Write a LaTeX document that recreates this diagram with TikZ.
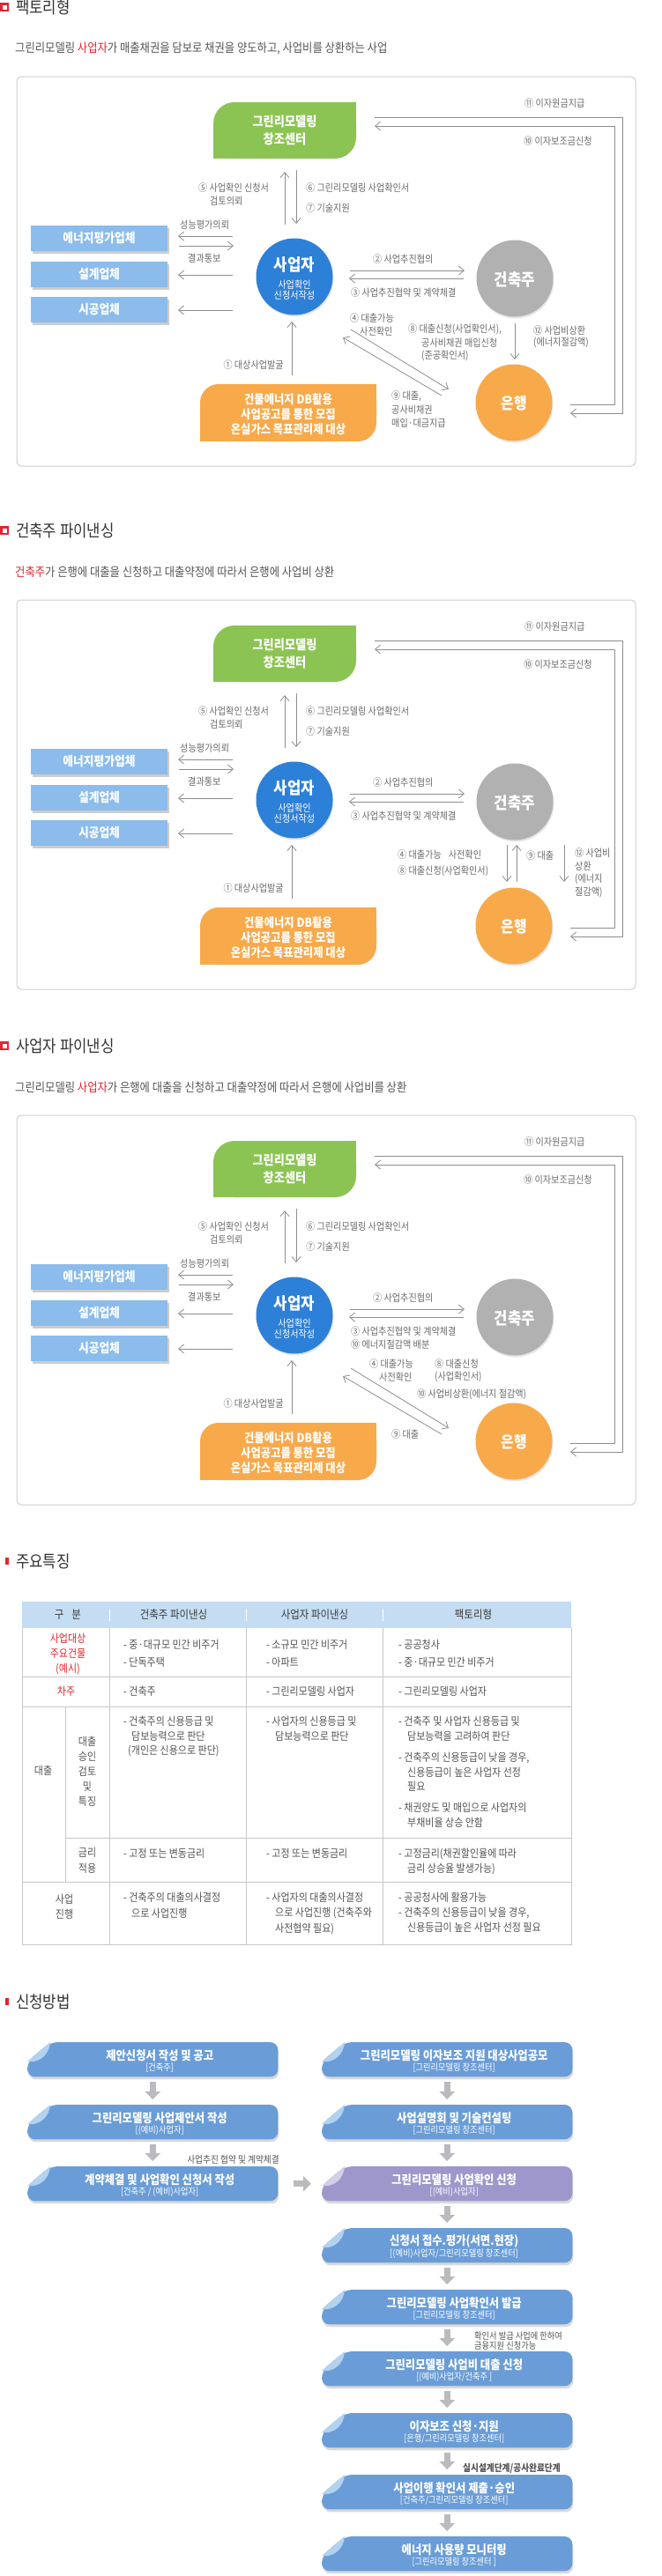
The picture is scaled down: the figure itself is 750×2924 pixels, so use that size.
\documentclass[tikz,border=0pt]{standalone}
\usepackage{fontspec}
\setmainfont{Noto Sans CJK KR}[FakeStretch=0.88]
\usetikzlibrary{arrows.meta,calc,shadows}
\definecolor{lbl}{HTML}{6B6B6B}
\definecolor{ln}{HTML}{8E8E8E}
\definecolor{frm}{HTML}{CFCFCF}
\definecolor{grn}{HTML}{8CC453}
\definecolor{org}{HTML}{F8A94A}
\definecolor{bizc}{HTML}{2D80D7}
\definecolor{gry}{HTML}{B1B1B1}
\definecolor{lbox}{HTML}{8BBCEB}
\definecolor{titc}{HTML}{333333}
\definecolor{redc}{HTML}{E1262D}
\definecolor{tbl}{HTML}{C8C8C8}
\definecolor{thead}{HTML}{C4DDF2}
\definecolor{thc}{HTML}{3C3C3C}
\definecolor{ttx}{HTML}{555555}
\definecolor{fboxc}{HTML}{6A9DD7}
\definecolor{ffold}{HTML}{B3D2EF}
\definecolor{pboxc}{HTML}{9E97CB}
\definecolor{pfold}{HTML}{D3CFEA}
\definecolor{barr}{HTML}{BABABF}
\newcommand\fsz[1]{\fontsize{#1}{#1}\selectfont}
\newcommand\fszl[2]{\fontsize{#1}{#2}\selectfont}
\tikzset{
 lab/.style={font=\fsz{11.5}, text=lbl, anchor=west, inner sep=0pt},
 arr/.style={draw=ln, line width=0.8pt, -{Straight Barb[length=6pt,width=10pt]}},
 wtxt/.style={text=white, inner sep=0pt},
 lbx/.style={fill=lbox, minimum width=155pt, minimum height=29pt, inner sep=0pt, text=white, font=\bfseries\fsz{14.5}, drop shadow={shadow xshift=1.5pt, shadow yshift=-2.5pt, opacity=0.4}},
 circ/.style={circle, minimum size=87pt, inner sep=0pt, drop shadow={shadow xshift=1pt, shadow yshift=-2pt, opacity=0.2}},
 sectitle/.style={font=\fsz{19}, text=titc, anchor=west, inner sep=0pt},
 subt/.style={font=\fsz{14}, text=ttx, anchor=west, inner sep=0pt},
 tt/.style={font=\fsz{12.5}, text=ttx, anchor=west, inner sep=0pt},
 tc/.style={font=\fsz{12.5}, text=ttx, inner sep=0pt},
 tr/.style={font=\fsz{12.5}, text=redc, inner sep=0pt},
 th/.style={font=\fsz{13}, text=thc, inner sep=0pt},
 tline/.style={draw=tbl, line width=1pt},
 barrow/.style={draw=barr, line width=7pt, -{Triangle[length=9pt,width=17pt]}, shorten <=6pt, shorten >=6pt},
 fl/.style={font=\fsz{10.5}, text=ttx, inner sep=0pt},
}
\newcommand\diagbase[2]{%
 \fill[redc] (0,3) rectangle (10,13);
 \fill[white] (2.5,5.5) rectangle (7.5,10.5);
 \node[sectitle] (title) at (18,8) {#1};
 \node[subt] (sub) at (17,55) {#2};
 \draw[frm, line width=1pt, rounded corners=5pt] (19,87) rectangle (721,529);
 \fill[grn, rounded corners=24pt] (242,116) rectangle (404,180);
 \fill[grn] (380,116) rectangle (404,140);
 \fill[grn] (242,156) rectangle (266,180);
 \node[wtxt, font=\bfseries\fszl{15}{20}, align=center] (green) at (323,148) {그린리모델링\\창조센터};
 \fill[org, rounded corners=21pt] (227,436) rectangle (427,501);
 \fill[org] (403,436) rectangle (427,460);
 \fill[org] (227,477) rectangle (251,501);
 \node[wtxt, font=\bfseries\fszl{14}{17}, align=center] (orange) at (327,470) {건물에너지 DB활용\\사업공고를 통한 모집\\온실가스 목표관리제 대상};
 \node[lbx] (eval) at (112.5,270.5) {에너지평가업체};
 \node[lbx] (design) at (112.5,311.5) {설계업체};
 \node[lbx] (build) at (112.5,351.5) {시공업체};
 \node[circ, fill=bizc] (biz) at (334,314) {};
 \node[wtxt, font=\bfseries\fsz{19}] (bizt) at (334,300) {사업자};
 \node[wtxt, font=\fsz{11.5}] (bizs1) at (334,323) {사업확인};
 \node[wtxt, font=\fsz{11.5}] (bizs2) at (334,335) {신청서작성};
 \node[circ, fill=gry] (owner) at (584,316) {};
 \node[wtxt, font=\bfseries\fsz{19}] (ownert) at (584,317) {건축주};
 \node[circ, fill=org] (bank) at (583,457) {};
 \node[wtxt, font=\bfseries\fsz{18}] (bankt) at (583,458) {은행};
 \draw[arr] (425,133) -- (706,133) -- (706,469) -- (647,469);
 \draw[arr] (647,459) -- (697,459) -- (697,143) -- (425,143);
 \node[lab] (l11) at (595,117) {⑪ 이자원금지급};
 \node[lab] (l10) at (594,160) {⑩ 이자보조금신청};
 \draw[arr] (323,255) -- (323,195);
 \draw[arr] (336,193) -- (336,254);
 \node[lab] (l5) at (225,213) {⑤ 사업확인 신청서};
 \node[lab] (l5b) at (238,228) {검토의뢰};
 \node[lab] (l6) at (347,213) {⑥ 그린리모델링 사업확인서};
 \node[lab] (l7) at (347,236) {⑦ 기술지원};
 \node[lab] (lp) at (204,255) {성능평가의뢰};
 \draw[arr] (264,268) -- (202,268);
 \draw[arr] (203,279) -- (265,279);
 \node[lab] (lr) at (213,293) {결과통보};
 \draw[arr] (264,312) -- (202,312);
 \draw[arr] (264,352) -- (202,352);
 \node[lab] (l2) at (423,294) {② 사업추진협의};
 \draw[arr] (397,307) -- (527,307);
 \draw[arr] (526,316) -- (396,316);
 \node[lab] (l3) at (398,332) {③ 사업추진협약 및 계약체결};
 \node[lab, anchor=east] (l1) at (322,414) {① 대상사업발굴};
 \draw[arr] (331,426) -- (331,365);
}
\newcommand\diagX{%
 \draw[arr] (398,374) -- (509,442);
 \draw[arr] (501,449) -- (389,383);
}
\newcommand\flowbox[7]{%
 \node[minimum width=284pt, minimum height=39pt, inner sep=0pt, anchor=north west] (#1) at (#2,#3) {};
 \fill[black, opacity=0.15, rounded corners=9pt] ($(#1.north west)+(27,3)$) -- ($(#1.north east)+(1,3)$) -- ($(#1.south east)+(1,3)$) -- ($(#1.south west)+(1,3)$) -- ($(#1.north west)+(1,25)$) -- cycle;
 \fill[#4, rounded corners=9pt] ($(#1.north west)+(26,0)$) -- (#1.north east) -- (#1.south east) -- (#1.south west) -- ($(#1.north west)+(0,22)$) -- cycle;
 \fill[#5] ($(#1.north west)+(26,0)$) -- ($(#1.north west)+(0,22)$) .. controls ($(#1.north west)+(14,24)$) and ($(#1.north west)+(25,14)$) .. ($(#1.north west)+(26,0)$);
 \node[wtxt, font=\bfseries\fsz{14}] (#1a) at ($(#1.north)+(8,15)$) {#6};
 \node[wtxt, font=\fsz{10.5}] (#1b) at ($(#1.north)+(8,29)$) {#7};
}
\begin{document}
\begin{tikzpicture}[x=1pt, y=-1pt]
\useasboundingbox (0,0) rectangle (750,2924);
\fill[white] (0,0) rectangle (750,2924);
% ---------- section 1
\begin{scope}[name prefix=a-]
 \diagbase{팩토리형}{그린리모델링 \textcolor{redc}{사업자}가 매출채권을 담보로 채권을 양도하고, 사업비를 상환하는 사업}
 \diagX
 \node[lab] (s4) at (397,361) {④ 대출가능};
 \node[lab] (s4b) at (408,376) {사전확인};
 \node[lab] (s8) at (463,374) {⑧ 대출신청(사업확인서),};
 \node[lab] (s8b) at (478,389) {공사비채권 매입신청};
 \node[lab] (s8c) at (478,404) {(준공확인서)};
 \draw[arr] (584,367) -- (584,408);
 \node[lab] (s12) at (605,375) {⑫ 사업비상환};
 \node[lab] (s12b) at (605,389) {(에너지절감액)};
 \node[lab] (s9) at (444,450) {⑨ 대출,};
 \node[lab] (s9b) at (444,465) {공사비채권};
 \node[lab] (s9c) at (444,480) {매입·대금지급};
\end{scope}
% ---------- section 2
\begin{scope}[shift={(0,594)}, name prefix=b-]
 \diagbase{건축주 파이낸싱}{\textcolor{redc}{건축주}가 은행에 대출을 신청하고 대출약정에 따라서 은행에 사업비 상환}
 \node[lab] (s4) at (451,376) {④ 대출가능\hspace{8pt}사전확인};
 \node[lab] (s8) at (451,395) {⑧ 대출신청(사업확인서)};
 \draw[arr] (575,365) -- (575,407);
 \draw[arr] (586,407) -- (586,365);
 \node[lab] (s9) at (597,377) {⑨ 대출};
 \draw[arr] (640,365) -- (640,407);
 \node[lab] (s12) at (652,374) {⑫ 사업비};
 \node[lab] (s12b) at (652,389) {상환};
 \node[lab] (s12c) at (652,404) {(에너지};
 \node[lab] (s12d) at (652,419) {절감액)};
\end{scope}
% ---------- section 3
\begin{scope}[shift={(0,1179)}, name prefix=c-]
 \diagbase{사업자 파이낸싱}{그린리모델링 \textcolor{redc}{사업자}가 은행에 대출을 신청하고 대출약정에 따라서 은행에 사업비를 상환}
 \diagX
 \node[lab] (s10) at (398,347) {⑩ 에너지절감액 배분};
 \node[lab] (s4) at (419,369) {④ 대출가능};
 \node[lab] (s4b) at (430,384) {사전확인};
 \node[lab] (s8) at (493,369) {⑧ 대출신청};
 \node[lab] (s8b) at (493,384) {(사업확인서)};
 \node[lab] (s10b) at (473,404) {⑩ 사업비상환(에너지 절감액)};
 \node[lab] (s9) at (444,449) {⑨ 대출};
\end{scope}
% ---------- section 4 table
\fill[redc] (6,1768) rectangle (10,1776);
\node[sectitle] (tt4) at (18,1772) {주요특징};
\fill[thead] (25,1818) rectangle (648,1848);
\foreach \xx in {124,279,434} \draw[white, line width=1pt] (\xx,1826) -- (\xx,1840);
\node[th] (h1) at (77,1833) {구\hspace{9pt}분};
\node[th] (h2) at (197,1833) {건축주 파이낸싱};
\node[th] (h3) at (357,1833) {사업자 파이낸싱};
\node[th] (h4) at (537,1833) {팩토리형};
\draw[tline] (25,1848) -- (25,2207) -- (648,2207) -- (648,1848);
\draw[tline] (25,1903) -- (648,1903);
\draw[tline] (25,1937) -- (648,1937);
\draw[tline] (74,2086) -- (648,2086);
\draw[tline] (25,2136) -- (648,2136);
\draw[tline] (124,1848) -- (124,2207);
\draw[tline] (279,1848) -- (279,2207);
\draw[tline] (434,1848) -- (434,2207);
\draw[tline] (74,1937) -- (74,2136);
\node[tr] (r1a) at (77,1860) {사업대상};
\node[tr] (r1b) at (77,1877) {주요건물};
\node[tr] (r1c) at (77,1895) {(예시)};
\node[tt] (r1d) at (140,1867) {- 중·대규모 민간 비주거};
\node[tt] (r1e) at (140,1887) {- 단독주택};
\node[tt] (r1f) at (302,1867) {- 소규모 민간 비주거};
\node[tt] (r1g) at (302,1887) {- 아파트};
\node[tt] (r1h) at (452,1867) {- 공공청사};
\node[tt] (r1i) at (452,1887) {- 중·대규모 민간 비주거};
\node[tr] (r2a) at (75,1920) {차주};
\node[tt] (r2b) at (140,1920) {- 건축주};
\node[tt] (r2c) at (302,1920) {- 그린리모델링 사업자};
\node[tt] (r2d) at (452,1920) {- 그린리모델링 사업자};
\node[tc] (r3a) at (49,2010) {대출};
\node[tc] (r3b1) at (99,1977) {대출};
\node[tc] (r3b2) at (99,1994) {승인};
\node[tc] (r3b3) at (99,2011) {검토};
\node[tc] (r3b4) at (99,2028) {및};
\node[tc] (r3b5) at (99,2045) {특징};
\node[tt] (r3c1) at (140,1954) {- 건축주의 신용등급 및};
\node[tt] (r3c2) at (149,1971) {담보능력으로 판단};
\node[tt] (r3c3) at (145,1988) {(개인은 신용으로 판단)};
\node[tt] (r3d1) at (302,1954) {- 사업자의 신용등급 및};
\node[tt] (r3d2) at (312,1971) {담보능력으로 판단};
\node[tt] (r3e1) at (452,1954) {- 건축주 및 사업자 신용등급 및};
\node[tt] (r3e2) at (462,1971) {담보능력을 고려하여 판단};
\node[tt] (r3e3) at (452,1995) {- 건축주의 신용등급이 낮을 경우,};
\node[tt] (r3e4) at (462,2012) {신용등급이 높은 사업자 선정};
\node[tt] (r3e5) at (462,2028) {필요};
\node[tt] (r3e6) at (452,2052) {- 채권양도 및 매입으로 사업자의};
\node[tt] (r3e7) at (462,2069) {부채비율 상승 안함};
\node[tc] (r4a) at (99,2103) {금리};
\node[tc] (r4b) at (99,2121) {적용};
\node[tt] (r4c) at (140,2104) {- 고정 또는 변동금리};
\node[tt] (r4d) at (302,2104) {- 고정 또는 변동금리};
\node[tt] (r4e1) at (452,2104) {- 고정금리(채권할인율에 따라};
\node[tt] (r4e2) at (462,2122) {금리 상승율 발생가능)};
\node[tc] (r5a) at (73,2156) {사업};
\node[tc] (r5b) at (73,2173) {진행};
\node[tt] (r5c1) at (140,2154) {- 건축주의 대출의사결정};
\node[tt] (r5c2) at (149,2172) {으로 사업진행};
\node[tt] (r5d1) at (302,2154) {- 사업자의 대출의사결정};
\node[tt] (r5d2) at (312,2172) {으로 사업진행 (건축주와};
\node[tt] (r5d3) at (312,2189) {사전협약 필요)};
\node[tt] (r5e1) at (452,2154) {- 공공청사에 활용가능};
\node[tt] (r5e2) at (452,2171) {- 건축주의 신용등급이 낮을 경우,};
\node[tt] (r5e3) at (462,2188) {신용등급이 높은 사업자 선정 필요};
% ---------- section 5 flow
\fill[redc] (6,2268) rectangle (10,2276);
\node[sectitle] (tt5) at (18,2272) {신청방법};
\flowbox{L1}{31}{2318}{fboxc}{ffold}{제안신청서 작성 및 공고}{[건축주]}
\flowbox{L2}{31}{2389}{fboxc}{ffold}{그린리모델링 사업제안서 작성}{[(예비)사업자]}
\flowbox{L3}{31}{2459}{fboxc}{ffold}{계약체결 및 사업확인 신청서 작성}{[건축주 / (예비)사업자]}
\flowbox{R1}{365}{2318}{fboxc}{ffold}{그린리모델링 이자보조 지원 대상사업공모}{[그린리모델링 창조센터]}
\flowbox{R2}{365}{2389}{fboxc}{ffold}{사업설명회 및 기술컨설팅}{[그린리모델링 창조센터]}
\flowbox{R3}{365}{2459}{pboxc}{pfold}{그린리모델링 사업확인 신청}{[(예비)사업자]}
\flowbox{R4}{365}{2529}{fboxc}{ffold}{신청서 접수.평가(서면.현장)}{[(예비)사업자/그린리모델링 창조센터]}
\flowbox{R5}{365}{2599}{fboxc}{ffold}{그린리모델링 사업확인서 발급}{[그린리모델링 창조센터]}
\flowbox{R6}{365}{2669}{fboxc}{ffold}{그린리모델링 사업비 대출 신청}{[(예비)사업자/건축주 ]}
\flowbox{R7}{365}{2739}{fboxc}{ffold}{이자보조 신청·지원}{[은행/그린리모델링 창조센터]}
\flowbox{R8}{365}{2809}{fboxc}{ffold}{사업이행 확인서 제출·승인}{[건축주/그린리모델링 창조센터]}
\flowbox{R9}{365}{2879}{fboxc}{ffold}{에너지 사용량 모니터링}{[그린리모델링 창조센터 ]}
\draw[barrow] (L1) -- (L2);
\draw[barrow] (L2) -- (L3);
\draw[barrow] (R1) -- (R2);
\draw[barrow] (R2) -- (R3);
\draw[barrow] (R3) -- (R4);
\draw[barrow] (R4) -- (R5);
\draw[barrow] (R5) -- (R6);
\draw[barrow] (R6) -- (R7);
\draw[barrow] (R7) -- (R8);
\draw[barrow] (R8) -- (R9);
\draw[barrow, shorten <=18pt, shorten >=12pt] (L3) -- (R3);
\node[fl, font=\fsz{11}, anchor=east] (fa1) at (317,2451) {사업추진 협약 및 계약체결};
\node[fl, anchor=west] (fa2) at (538,2652) {확인서 발급 사업에 한하여};
\node[fl, anchor=west] (fa3) at (538,2663) {금융지원 신청가능};
\node[fl, anchor=west, font=\bfseries\fsz{11}] (fa4) at (525,2802) {실시설계단계/공사완료단계};
\end{tikzpicture}
\end{document}
